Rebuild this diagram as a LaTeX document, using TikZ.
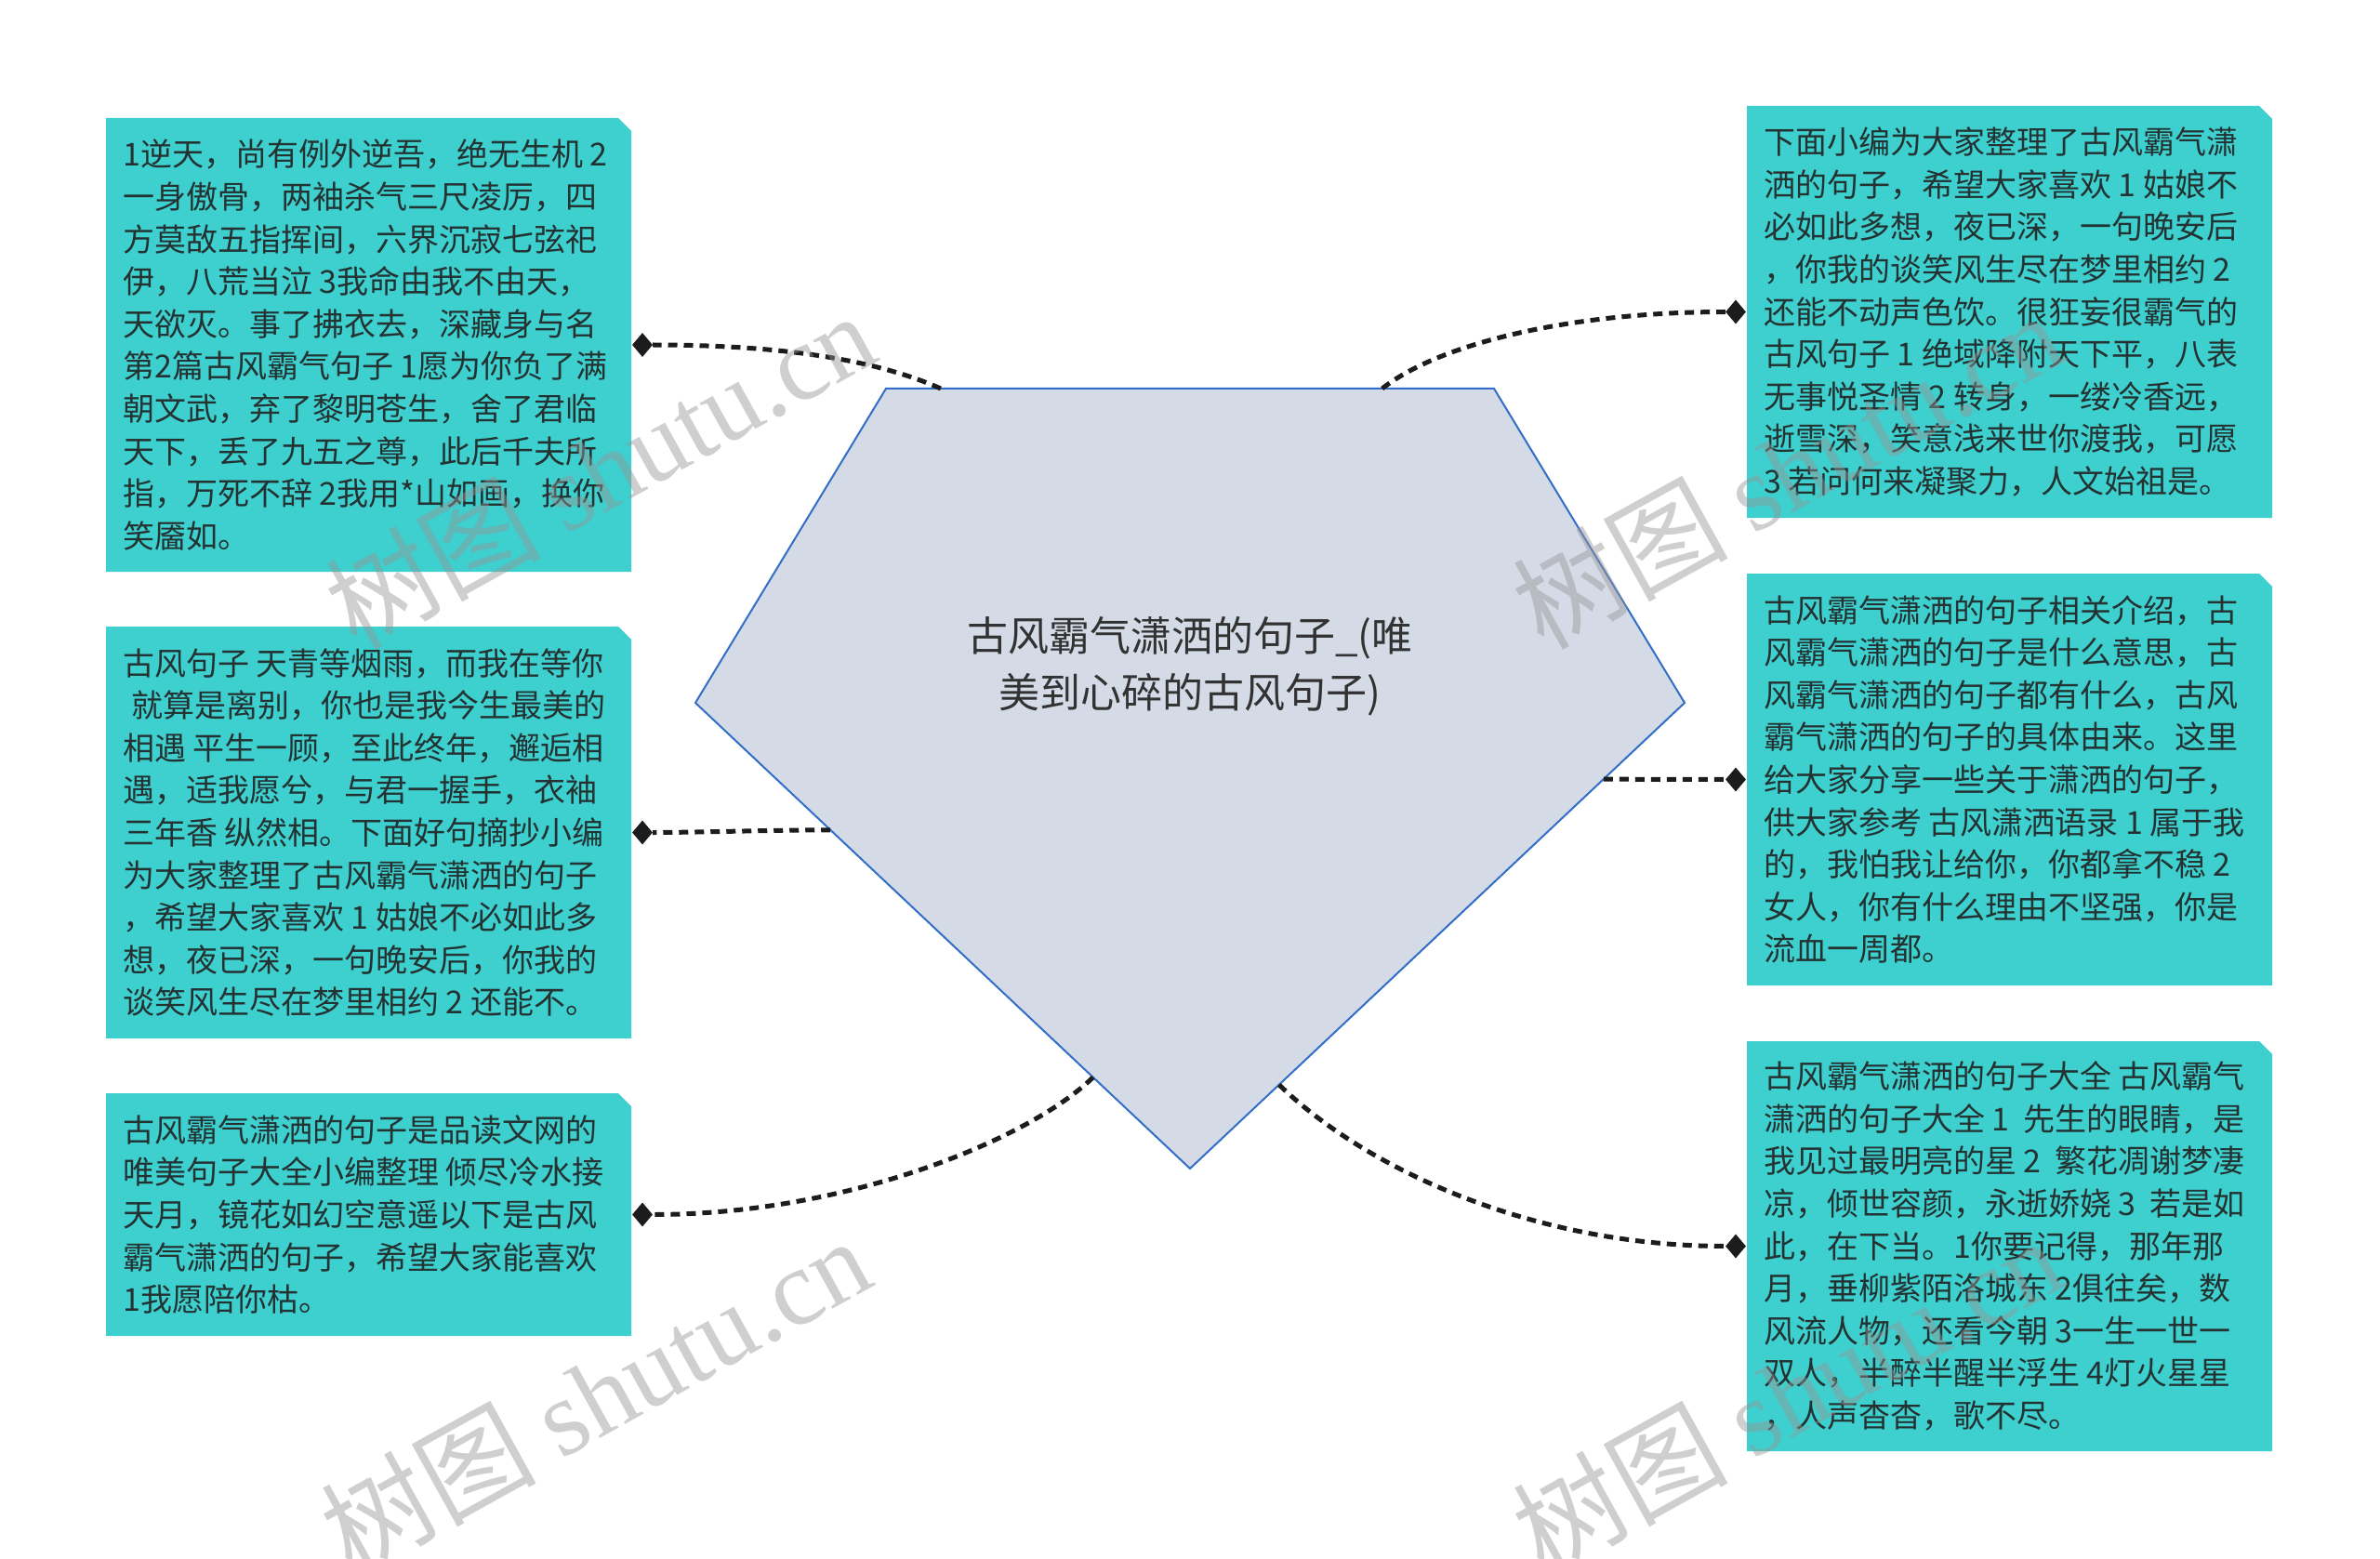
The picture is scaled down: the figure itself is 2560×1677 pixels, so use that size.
\documentclass[tikz,border=0pt]{standalone}
\usepackage{fontspec}
\setmainfont{Noto Sans CJK SC}
\newfontfamily\wmserif{Liberation Serif}
\usetikzlibrary{shapes.geometric,calc}
\definecolor{boxcol}{RGB}{62,207,207}
\definecolor{txtcol}{RGB}{36,50,50}
\definecolor{pentfill}{RGB}{212,219,230}
\definecolor{pentline}{RGB}{50,110,200}
\definecolor{linecol}{RGB}{28,28,28}
\definecolor{wmcol}{RGB}{150,150,150}
\definecolor{titlecol}{RGB}{50,50,50}
\begin{document}
\begin{tikzpicture}[x=1pt,y=-1pt,
  box/.style={rectangle, minimum width=565pt, inner sep=0pt, outer sep=0pt, anchor=north west},
  txt/.style={anchor=west, align=left, inner sep=0pt, text=txtcol, font=\fontsize{34}{45.6}\selectfont},
  title/.style={align=center, inner sep=0pt, text=titlecol, font=\fontsize{44}{61}\selectfont},
  dmd/.style={diamond, fill=linecol, inner sep=0pt, minimum width=22pt, minimum height=26pt},
  conn/.style={draw=linecol, line width=5pt, dash pattern=on 10pt off 7pt},
  wm/.style={text=wmcol, opacity=0.45, rotate=29, font=\fontsize{116}{116}\selectfont, inner sep=0pt}]

\useasboundingbox (0,0) rectangle (2560,1677);
\fill[white] (0,0) rectangle (2560,1677);

% central pentagon
\coordinate (pTL) at (953,418);
\coordinate (pTR) at (1607,418);
\coordinate (pR) at (1812,756);
\coordinate (pB) at (1280,1257);
\coordinate (pL) at (748,756);
\filldraw[fill=pentfill, draw=pentline, line width=2pt] (pTL) -- (pTR) -- (pR) -- (pB) -- (pL) -- cycle;
\node[title] (title) at (1280,717) {古风霸气潇洒的句子\_(唯\\美到心碎的古风句子)};

% connector end points on the pentagon
\coordinate (e1) at ($(pTL)!0.09!(pTR)$);
\coordinate (e2) at ($(pL)!0.273!(pB)$);
\coordinate (e3) at ($(pL)!0.804!(pB)$);
\coordinate (e4) at ($(pTL)!0.816!(pTR)$);
\coordinate (e5) at ($(pR)!0.164!(pB)$);
\coordinate (e6) at ($(pR)!0.82!(pB)$);

% left boxes
\node[box, minimum height=488pt] (b1) at (114,127) {};
\fill[boxcol] (b1.south west) -- (b1.north west) -- ([xshift=-14pt]b1.north east) -- ([yshift=-14pt]b1.north east) -- (b1.south east) -- cycle;
\node[txt] (t1) at ([xshift=18pt]b1.west) {1逆天，尚有例外逆吾，绝无生机 2\\一身傲骨，两袖杀气三尺凌厉，四\\方莫敌五指挥间，六界沉寂七弦祀\\伊，八荒当泣 3我命由我不由天，\\天欲灭。事了拂衣去，深藏身与名\\第2篇古风霸气句子 1愿为你负了满\\朝文武，弃了黎明苍生，舍了君临\\天下，丢了九五之尊，此后千夫所\\指，万死不辞 2我用*山如画，换你\\笑靥如。};

\node[box, minimum height=443pt] (b2) at (114,674) {};
\fill[boxcol] (b2.south west) -- (b2.north west) -- ([xshift=-14pt]b2.north east) -- ([yshift=-14pt]b2.north east) -- (b2.south east) -- cycle;
\node[txt] (t2) at ([xshift=18pt]b2.west) {古风句子 天青等烟雨，而我在等你\\\hspace*{9pt}就算是离别，你也是我今生最美的\\相遇 平生一顾，至此终年，邂逅相\\遇，适我愿兮，与君一握手，衣袖\\三年香 纵然相。下面好句摘抄小编\\为大家整理了古风霸气潇洒的句子\\，希望大家喜欢 1 姑娘不必如此多\\想，夜已深，一句晚安后，你我的\\谈笑风生尽在梦里相约 2 还能不。};

\node[box, minimum height=261pt] (b3) at (114,1176) {};
\fill[boxcol] (b3.south west) -- (b3.north west) -- ([xshift=-14pt]b3.north east) -- ([yshift=-14pt]b3.north east) -- (b3.south east) -- cycle;
\node[txt] (t3) at ([xshift=18pt]b3.west) {古风霸气潇洒的句子是品读文网的\\唯美句子大全小编整理 倾尽冷水接\\天月，镜花如幻空意遥以下是古风\\霸气潇洒的句子，希望大家能喜欢\\1我愿陪你枯。};

% right boxes
\node[box, minimum height=443pt] (r1) at (1879,114) {};
\fill[boxcol] (r1.south west) -- (r1.north west) -- ([xshift=-14pt]r1.north east) -- ([yshift=-14pt]r1.north east) -- (r1.south east) -- cycle;
\node[txt] (u1) at ([xshift=18pt]r1.west) {下面小编为大家整理了古风霸气潇\\洒的句子，希望大家喜欢 1 姑娘不\\必如此多想，夜已深，一句晚安后\\，你我的谈笑风生尽在梦里相约 2\\还能不动声色饮。很狂妄很霸气的\\古风句子 1 绝域降附天下平，八表\\无事悦圣情 2 转身，一缕冷香远，\\逝雪深，笑意浅来世你渡我，可愿\\3 若问何来凝聚力，人文始祖是。};

\node[box, minimum height=443pt] (r2) at (1879,617) {};
\fill[boxcol] (r2.south west) -- (r2.north west) -- ([xshift=-14pt]r2.north east) -- ([yshift=-14pt]r2.north east) -- (r2.south east) -- cycle;
\node[txt] (u2) at ([xshift=18pt]r2.west) {古风霸气潇洒的句子相关介绍，古\\风霸气潇洒的句子是什么意思，古\\风霸气潇洒的句子都有什么，古风\\霸气潇洒的句子的具体由来。这里\\给大家分享一些关于潇洒的句子，\\供大家参考 古风潇洒语录 1 属于我\\的，我怕我让给你，你都拿不稳 2\\女人，你有什么理由不坚强，你是\\流血一周都。};

\node[box, minimum height=441pt] (r3) at (1879,1120) {};
\fill[boxcol] (r3.south west) -- (r3.north west) -- ([xshift=-14pt]r3.north east) -- ([yshift=-14pt]r3.north east) -- (r3.south east) -- cycle;
\node[txt] (u3) at ([xshift=18pt]r3.west) {古风霸气潇洒的句子大全 古风霸气\\潇洒的句子大全 1\ \ 先生的眼睛，是\\我见过最明亮的星 2\ \ 繁花凋谢梦凄\\凉，倾世容颜，永逝娇娆 3\ \ 若是如\\此，在下当。1你要记得，那年那\\月，垂柳紫陌洛城东 2俱往矣，数\\风流人物，还看今朝 3一生一世一\\双人，半醉半醒半浮生 4灯火星星\\，人声杳杳，歌不尽。};

% diamonds
\node[dmd] (d1) at ([xshift=12pt]b1.east) {};
\node[dmd] (d2) at ([xshift=12pt]b2.east) {};
\node[dmd] (d3) at ([xshift=12pt]b3.east) {};
\node[dmd] (d4) at ([xshift=-12pt]r1.west) {};
\node[dmd] (d5) at ([xshift=-12pt]r2.west) {};
\node[dmd] (d6) at ([xshift=-12pt]r3.west) {};

% connectors
\draw[conn] (e1) .. controls +(-65,-29) and +(158,0) .. (d1);
\draw[conn] (e2) .. controls +(-60,0) and +(60,0) .. (d2);
\draw[conn] (e3) .. controls +(-66,65) and +(223,0) .. (d3);
\draw[conn] (e4) .. controls +(65,-51) and +(-170,0) .. (d4);
\draw[conn] (e5) -- (d5);
\draw[conn] (e6) .. controls +(93,90) and +(-219,0) .. (d6);

% watermarks
\node[wm] (w1) at (645,505) {树图 {\wmserif shutu.cn}};
\node[wm] (w2) at (640,1500) {树图 {\wmserif shutu.cn}};
\node[wm] (w3) at (1922,505) {树图 {\wmserif shutu.cn}};
\node[wm] (w4) at (1922,1500) {树图 {\wmserif shutu.cn}};
\end{tikzpicture}
\end{document}
